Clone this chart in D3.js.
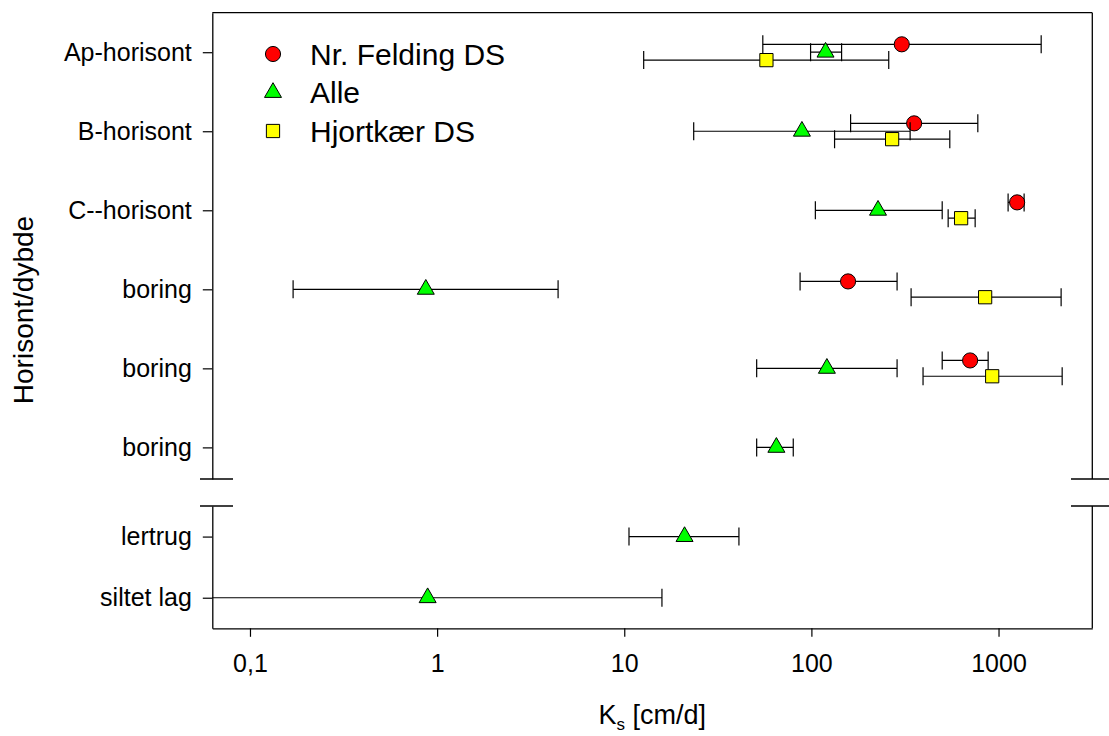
<!DOCTYPE html>
<html>
<head>
<meta charset="utf-8">
<script src="https://cdn.jsdelivr.net/npm/d3@7"></script>
<style>
  body { margin: 0; background: #fff; }
  text { font-family: "Liberation Sans", Arial, sans-serif; fill: #000; }
</style>
</head>
<body>
<svg id="chart" width="1109" height="736"></svg>
<script>
// rows, top to bottom
const categories = ['Ap-horisont', 'B-horisont', 'C--horisont', 'boring', 'boring', 'boring', 'lertrug', 'siltet lag'];
const catPos = [8, 7, 6, 5, 4, 3, 2, 1];
const xTicks = [0.1, 1, 10, 100, 1000];

// Nr. Felding DS
const feldingMean = [304, 354, 1257, 157, 705, null, null, null];
const feldingLow = [55, 162, 1125, 87, 500, null, null, null];
const feldingHigh = [1690, 775, 1370, 287, 880, null, null, null];

// Alle
const alleMean = [119, 89, 227, 0.87, 121, 65, 21, 0.89];
const alleLow = [99, 23.5, 105, 0.17, 51, 51, 10.6, 0.04];
const alleHigh = [145, 337, 500, 4.43, 287, 80, 41, 15.9];

// Hjortkær DS
const hjortMean = [57.5, 270, 631, 848, 925, null, null, null];
const hjortLow = [12.7, 133, 538, 341, 395, null, null, null];
const hjortHigh = [259, 549, 750, 2160, 2188, null, null, null];

const seriesNames = ['Nr. Felding DS', 'Alle', 'Hjortkær DS'];

const svg = d3.select('#chart');

const plotLeft = 212.3, plotRight = 1092.3, plotTop = 12.7, plotBottom = 628.3;
const breakTop = 479, breakBottom = 506;

const x = d3.scaleLog().domain([0.0629, 3170]).range([plotLeft, plotRight]);
const yUpper = d3.scaleLinear().domain([2.6, 8.5]).range([breakTop, plotTop]);
const yLower = d3.scaleLinear().domain([0.5, 2.5]).range([plotBottom, breakBottom]);
const y = v => (v > 2.55 ? yUpper(v) : yLower(v));

// clip for the data
svg.append('defs').append('clipPath').attr('id', 'plotclip')
    .append('rect')
    .attr('x', plotLeft).attr('y', plotTop)
    .attr('width', plotRight - plotLeft).attr('height', plotBottom - plotTop);

// frame: top + right (broken)
svg.append('line')
    .attr('x1', plotLeft).attr('x2', plotRight).attr('y1', plotTop).attr('y2', plotTop)
    .attr('stroke', '#000').attr('stroke-width', 1.3);
svg.append('line')
    .attr('x1', plotRight).attr('x2', plotRight).attr('y1', plotTop).attr('y2', breakTop)
    .attr('stroke', '#000').attr('stroke-width', 1.3);
svg.append('line')
    .attr('x1', plotRight).attr('x2', plotRight).attr('y1', breakBottom).attr('y2', plotBottom)
    .attr('stroke', '#000').attr('stroke-width', 1.3);

// left axis, two parts
const upperAxis = d3.axisLeft(yUpper)
    .tickValues([3, 4, 5, 6, 7, 8])
    .tickFormat(d => categories[catPos.indexOf(d)])
    .tickSizeInner(9.5).tickSizeOuter(0).tickPadding(11);
const lowerAxis = d3.axisLeft(yLower)
    .tickValues([1, 2])
    .tickFormat(d => categories[catPos.indexOf(d)])
    .tickSizeInner(9.5).tickSizeOuter(0).tickPadding(11);

[upperAxis, lowerAxis].forEach(ax => {
    const g = svg.append('g')
        .attr('transform', `translate(${plotLeft},0)`)
        .call(ax);
    g.select('.domain').attr('stroke', '#000').attr('stroke-width', 1.3);
    g.selectAll('.tick line').attr('stroke', '#000').attr('stroke-width', 1.2);
    g.selectAll('.tick text')
        .style('font-size', '25px')
        .attr('fill', '#000');
});

// axis break marks
[[200, 233], [1071, 1109]].forEach(([a, b]) => {
    [breakTop, breakBottom].forEach(yy => {
        svg.append('line')
            .attr('x1', a).attr('x2', b).attr('y1', yy).attr('y2', yy)
            .attr('stroke', '#000').attr('stroke-width', 1.3);
    });
});

// bottom axis
const xAxis = d3.axisBottom(x)
    .tickValues(xTicks)
    .tickFormat(d => String(d).replace('.', ','))
    .tickSizeInner(8.5).tickSizeOuter(0).tickPadding(17);
const gx = svg.append('g')
    .attr('transform', `translate(0,${plotBottom})`)
    .call(xAxis);
gx.select('.domain').attr('stroke', '#000').attr('stroke-width', 1.3);
gx.selectAll('.tick line').attr('stroke', '#000').attr('stroke-width', 1.2);
gx.selectAll('.tick text').style('font-size', '25px').attr('fill', '#000');

// axis titles
svg.append('text')
    .attr('transform', 'translate(33,310) rotate(-90)')
    .attr('text-anchor', 'middle')
    .style('font-size', '28px')
    .text('Horisont/dybde');

const xt = svg.append('text')
    .attr('x', (plotLeft + plotRight) / 2)
    .attr('y', 724)
    .attr('text-anchor', 'middle')
    .style('font-size', '27px');
xt.append('tspan').text('K');
xt.append('tspan').attr('dy', 6).style('font-size', '17px').text('s');
xt.append('tspan').attr('dy', -6).text(' [cm/d]');

// data
const symbolTypes = [d3.symbolCircle, d3.symbolTriangle, d3.symbolSquare];
const symbolSizes = [180, 125, 175];
const fills = ['#ff0000', '#00ff00', '#ffff00'];
const offsets = [0.1, 0, -0.1];

const makeRows = (mean, low, high, off) => categories
    .map((c, i) => ({mean: mean[i], low: low[i], high: high[i], pos: catPos[i] + off}))
    .filter(d => d.mean !== null);

const allSeries = [
    makeRows(feldingMean, feldingLow, feldingHigh, offsets[0]),
    makeRows(alleMean, alleLow, alleHigh, offsets[1]),
    makeRows(hjortMean, hjortLow, hjortHigh, offsets[2])
];

const capHalf = 9;
const dataG = svg.append('g').attr('clip-path', 'url(#plotclip)');

allSeries.forEach((rows, si) => {
    const g = dataG.append('g').attr('class', 'series-' + si);

    const bars = g.selectAll('g.bar').data(rows).enter().append('g').attr('class', 'bar');
    bars.append('line')
        .attr('x1', d => x(d.low)).attr('x2', d => x(d.high))
        .attr('y1', d => y(d.pos)).attr('y2', d => y(d.pos))
        .attr('stroke', '#000').attr('stroke-width', 1.2);
    bars.append('line')
        .attr('x1', d => x(d.low)).attr('x2', d => x(d.low))
        .attr('y1', d => y(d.pos) - capHalf).attr('y2', d => y(d.pos) + capHalf)
        .attr('stroke', '#000').attr('stroke-width', 1.2);
    bars.append('line')
        .attr('x1', d => x(d.high)).attr('x2', d => x(d.high))
        .attr('y1', d => y(d.pos) - capHalf).attr('y2', d => y(d.pos) + capHalf)
        .attr('stroke', '#000').attr('stroke-width', 1.2);

    g.selectAll('path.sym').data(rows).enter().append('path')
        .attr('class', 'sym')
        .attr('d', d3.symbol().type(symbolTypes[si]).size(symbolSizes[si]))
        .attr('transform', d => `translate(${x(d.mean)},${y(d.pos)})`)
        .attr('fill', fills[si])
        .attr('stroke', '#000').attr('stroke-width', 1);
});

// legend
const legendRows = [54, 92.5, 131];
const legend = svg.append('g').attr('class', 'legend');
seriesNames.forEach((name, i) => {
    legend.append('path')
        .attr('d', d3.symbol().type(symbolTypes[i]).size(symbolSizes[i]))
        .attr('transform', `translate(273,${legendRows[i]})`)
        .attr('fill', fills[i])
        .attr('stroke', '#000').attr('stroke-width', 1);
    legend.append('text')
        .attr('x', 310)
        .attr('y', legendRows[i])
        .attr('dy', '0.35em')
        .style('font-size', '30px')
        .text(name);
});
</script>
</body>
</html>
